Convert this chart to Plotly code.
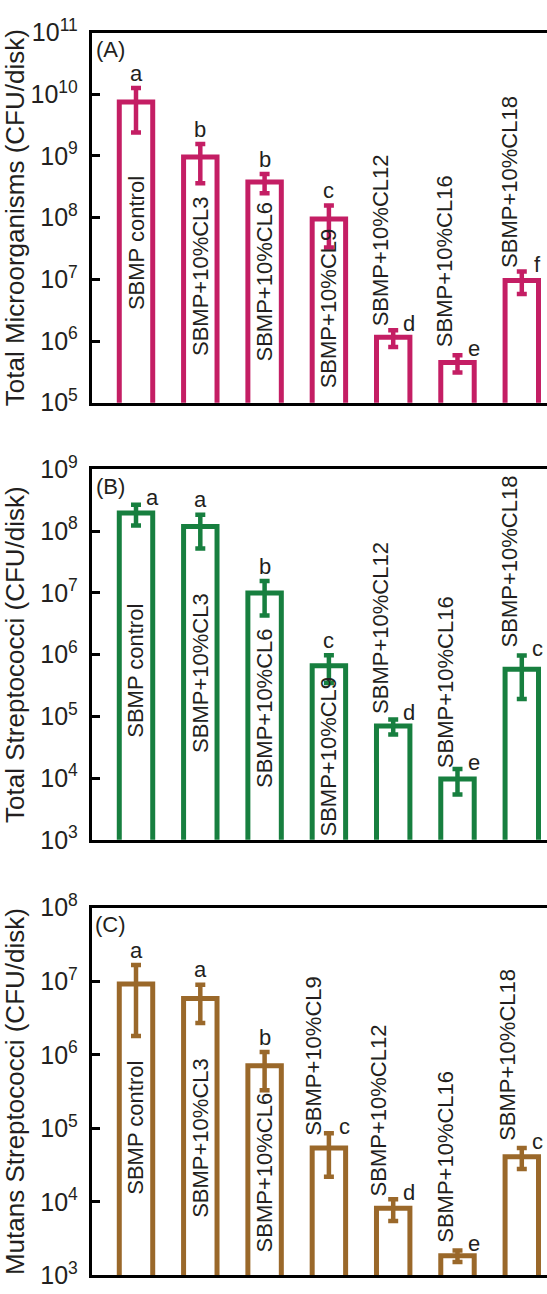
import math
import plotly.graph_objects as go

# ---- data -------------------------------------------------------------
groups = ["SBMP control", "SBMP+10%CL3", "SBMP+10%CL6", "SBMP+10%CL9",
          "SBMP+10%CL12", "SBMP+10%CL16", "SBMP+10%CL18"]

micro_mean = [7.5e9, 9.6e8, 3.8e8, 9.5e7, 1.15e6, 4.5e5, 9.6e6]
micro_err = [5.1e9, 6.0e8, 1.3e8, 6.2e7, 3.5e5, 1.4e5, 3.8e6]
micro_letters = ["a", "b", "b", "c", "d", "e", "f"]

strep_mean = [1.95e8, 1.18e8, 9.9e6, 6.6e5, 7.0e4, 9.7e3, 5.8e5]
strep_err = [7.2e7, 6.6e7, 5.6e6, 3.15e5, 1.9e4, 4.3e3, 3.9e5]
strep_letters = ["a", "a", "b", "c", "d", "e", "c"]

mutans_mean = [9.2e6, 5.85e6, 7.1e5, 5.4e4, 8.2e3, 1.85e3, 4.1e4]
mutans_err = [7.4e6, 3.15e6, 3.8e5, 3.2e4, 2.7e3, 3.3e2, 1.3e4]
mutans_letters = ["a", "a", "b", "c", "d", "e", "c"]

# ---- per-panel layout settings ---------------------------------------
FONT = "Liberation Sans, Arial, sans-serif"
TXT = "#231F20"
W, H = 547, 1294
X_LEFT = 91.7

panels = [
    dict(tag="(A)", title="Total Microorganisms (CFU/disk)", color="#C41E64",
         mean=micro_mean, err=micro_err, letters=micro_letters,
         yrange=[5, 11], top=15, bottom=394.5,
         label_base=[6.47, 5.73, 5.63, 5.20, 6.21, 5.86, 7.15],
         label_dx=[0, 0, 0, 0, -13, -13, -13],
         side=[False, False, False, False, True, True, True]),
    dict(tag="(B)", title="Total Streptococci (CFU/disk)", color="#177F3F",
         mean=strep_mean, err=strep_err, letters=strep_letters,
         yrange=[3, 9], top=462.7, bottom=842.7,
         label_base=[4.62, 4.38, 3.80, 3.02, 5.01, 4.12, 6.08],
         label_dx=[0, 0, 0, 0, -12, -12, -12],
         side=[True, False, False, False, True, True, True]),
    dict(tag="(C)", title="Mutans Streptococci (CFU/disk)", color="#9A682A",
         mean=mutans_mean, err=mutans_err, letters=mutans_letters,
         yrange=[3, 8], top=912.3, bottom=1289.3,
         label_base=[4.07, 3.76, 3.28, 4.87, 4.05, 3.41, 4.80],
         label_dx=[0, 0, 0, -15, -15, -12, -15],
         side=[False, False, False, True, True, True, True]),
]

fig = go.Figure()
annotations = []
layout_axes = {}

for i, p in enumerate(panels, start=1):
    xa = "x" if i == 1 else f"x{i}"
    ya = "y" if i == 1 else f"y{i}"
    xkey = "xaxis" if i == 1 else f"xaxis{i}"
    ykey = "yaxis" if i == 1 else f"yaxis{i}"

    fig.add_trace(go.Bar(
        x=groups, y=p["mean"], width=0.52,
        marker=dict(color="white", line=dict(color=p["color"], width=5)),
        error_y=dict(type="data", array=p["err"], visible=True,
                     color=p["color"], thickness=4.5, width=5),
        xaxis=xa, yaxis=ya, showlegend=False,
    ))

    layout_axes[xkey] = dict(
        domain=[X_LEFT / W, 1], range=[-0.689, 6.392], type="category",
        showline=True, linecolor="black", linewidth=2.8, mirror=True,
        showticklabels=False, ticks="", showgrid=False, zeroline=False,
        anchor=ya,
    )
    layout_axes[ykey] = dict(
        domain=[1 - p["bottom"] / H, 1 - p["top"] / H],
        type="log", range=p["yrange"], dtick=1,
        exponentformat="power", showexponent="all",
        showline=True, linecolor="black", linewidth=2.8,
        ticks="inside", ticklen=8, tickwidth=2.8, tickcolor="black",
        ticklabelstandoff=7,
        tickfont=dict(family=FONT, size=20, color=TXT),
        showgrid=False, zeroline=False, anchor=xa,
        title=dict(text=p["title"], standoff=10,
                   font=dict(family=FONT, size=26, color=TXT)),
    )

    # panel tag
    annotations.append(dict(
        text=p["tag"], xref=f"{xa} domain", yref=f"{ya} domain",
        x=0.042, y=1 - 17.5 / (p["bottom"] - p["top"]),
        xanchor="center", yanchor="middle", showarrow=False,
        font=dict(family=FONT, size=22, color=TXT)))

    for k, g in enumerate(groups):
        # rotated group name
        annotations.append(dict(
            text=g, xref=xa, yref=ya, x=k, y=p["label_base"][k],
            xshift=p["label_dx"][k], textangle=-90,
            xanchor="center", yanchor="bottom", showarrow=False,
            font=dict(family=FONT, size=22, color=TXT)))
        # significance letter
        top_val = math.log10(p["mean"][k] + p["err"][k])
        if p["side"][k]:
            shift = dict(xshift=16, yshift=7)
        else:
            shift = dict(xshift=0, yshift=15)
        annotations.append(dict(
            text=p["letters"][k], xref=xa, yref=ya, x=k, y=top_val,
            xanchor="center", yanchor="middle", showarrow=False,
            font=dict(family=FONT, size=22, color=TXT), **shift))

fig.update_layout(
    width=W, height=H,
    margin=dict(l=0, r=0, t=0, b=0),
    paper_bgcolor="white", plot_bgcolor="white",
    annotations=annotations,
    **layout_axes,
)

fig.write_html("out.html")
